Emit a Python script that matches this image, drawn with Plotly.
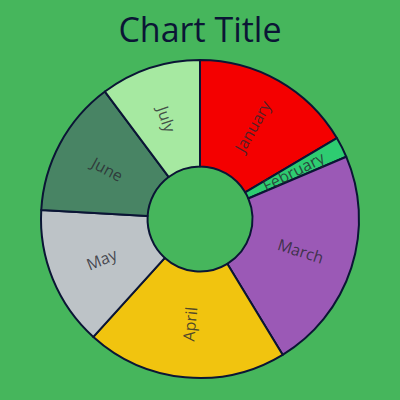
import numpy as np
import plotly.graph_objects as go

labels = ["January", "February", "March", "April", "May", "June", "July"]
values = [16.5, 2.1, 22.7, 20.4, 14.2, 13.9, 10.2]
colors = ["#F40000", "#2ECC71", "#9B59B6", "#F1C40F", "#BDC3C7", "#488464", "#A6E9A1"]

W, H = 400, 400
M_T, M_B = 60, 22
HOLE = 0.33

fig = go.Figure(go.Pie(
    labels=labels,
    values=values,
    hole=HOLE,
    sort=False,
    direction="clockwise",
    rotation=0,
    textinfo="none",
    marker=dict(colors=colors, line=dict(color="#0B1535", width=2)),
    showlegend=False,
))

# radial labels placed at the middle of each ring segment
plot_h = H - M_T - M_B
outer_r = min(W, plot_h) / 2
mid_r = outer_r * (1 + HOLE) / 2
vals = np.array(values, dtype=float)
cum = np.cumsum(vals)
mid_deg = (cum - vals / 2) / vals.sum() * 360.0
for lab, ang in zip(labels, mid_deg):
    rad = np.deg2rad(ang)
    x = 0.5 + mid_r * np.sin(rad) / W
    y = 0.5 + mid_r * np.cos(rad) / plot_h
    rot = ang - 90 if ang <= 180 else ang - 270
    fig.add_annotation(
        x=x, y=y, xref="paper", yref="paper", text=lab, showarrow=False,
        textangle=rot, xanchor="center", yanchor="middle",
        font=dict(family="Open Sans", size=16, color="rgba(40,40,48,0.8)"),
    )

fig.update_layout(
    width=W, height=H,
    paper_bgcolor="#46B65C",
    plot_bgcolor="#46B65C",
    margin=dict(l=0, r=0, t=M_T, b=M_B),
    title=dict(text="Chart Title", x=0.5, xanchor="center", y=0.955, yanchor="top",
               font=dict(family="Open Sans", size=34, color="#0B1535")),
)

fig.write_html("out.html")
